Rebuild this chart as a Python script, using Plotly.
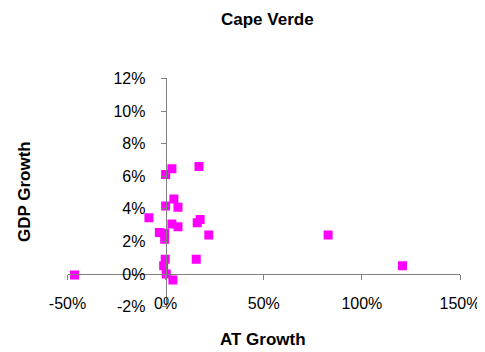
import plotly.graph_objects as go

# AT growth (%) and GDP growth (%)
at_growth = [-46.4, -8.5, -3.2, -0.5, -0.5, 0.0, 3.2, 17.0, 4.2, 0.0, 6.3, 3.2, 6.3,
             17.6, 16.1, 22.0, -0.2, -1.0, 15.6, 0.3, 3.7, 82.8, 120.7]
gdp_growth = [-0.06, 3.45, 2.55, 2.5, 2.13, 6.1, 6.45, 6.6, 4.6, 4.17, 4.1, 3.07, 2.9,
              3.35, 3.15, 2.4, 0.9, 0.5, 0.9, 0.0, -0.37, 2.4, 0.51]

x_tickvals = [-50, 0, 50, 100, 150]
x_ticktext = ["-50%", "0%", "50%", "100%", "150%"]
y_tickvals = [-2, 0, 2, 4, 6, 8, 10, 12]
y_ticktext = ["-2%", "0%", "2%", "4%", "6%", "8%", "10%", "12%"]

W, H = 485, 352
OFF = 8  # page body margin offset


def px(v):
    return (v - OFF) / W


def py(v):
    return 1 - (v - OFF) / H


xdom = [px(67.5), px(460)]
ydom = [py(306.6), py(78.4)]
xr = [-50, 150]
yr = [-2, 12]
# axes cross at zero
ypos_of_xaxis = ydom[0] + (0 - yr[0]) / (yr[1] - yr[0]) * (ydom[1] - ydom[0])
xpos_of_yaxis = xdom[0] + (0 - xr[0]) / (xr[1] - xr[0]) * (xdom[1] - xdom[0])

FONT = "Liberation Sans, Arial, sans-serif"
AXC = "#808080"

fig = go.Figure(go.Scatter(
    x=at_growth, y=gdp_growth, mode="markers",
    marker=dict(symbol="square", size=9, color="#FF00FF", line=dict(width=0)),
    hoverinfo="x+y",
))

fig.update_layout(
    width=W, height=H,
    margin=dict(l=0, r=0, t=0, b=0, autoexpand=False),
    paper_bgcolor="white", plot_bgcolor="white",
    showlegend=False,
    font=dict(family=FONT, size=16, color="black"),
    xaxis=dict(
        domain=xdom, range=xr, anchor="free", position=ypos_of_xaxis,
        tickvals=x_tickvals, ticktext=x_ticktext, automargin=False,
        showline=True, linecolor=AXC, linewidth=1,
        ticks="outside", ticklen=5, tickcolor=AXC, tickwidth=1,
        showgrid=False, zeroline=False, ticklabelstandoff=10,
        tickfont=dict(size=16, family=FONT, color="black"),
    ),
    yaxis=dict(
        domain=ydom, range=yr, anchor="free", position=xpos_of_yaxis,
        tickvals=y_tickvals, ticktext=y_ticktext, automargin=False,
        showline=True, linecolor=AXC, linewidth=1,
        ticks="outside", ticklen=5, tickcolor=AXC, tickwidth=1,
        showgrid=False, zeroline=False, ticklabelstandoff=12,
        tickfont=dict(size=16, family=FONT, color="black"),
    ),
    annotations=[
        dict(text="<b>Cape Verde</b>", x=px(267.5), y=py(19), xref="paper", yref="paper",
             showarrow=False, font=dict(size=17, family=FONT, color="black"),
             xanchor="center", yanchor="middle"),
        dict(text="<b>AT Growth</b>", x=px(262.5), y=py(339), xref="paper", yref="paper",
             showarrow=False, font=dict(size=17, family=FONT, color="black"),
             xanchor="center", yanchor="middle"),
        dict(text="<b>GDP Growth</b>", x=px(24), y=py(192), xref="paper", yref="paper",
             showarrow=False, textangle=-90, font=dict(size=17, family=FONT, color="black"),
             xanchor="center", yanchor="middle"),
    ],
)

fig.write_html("out.html")
